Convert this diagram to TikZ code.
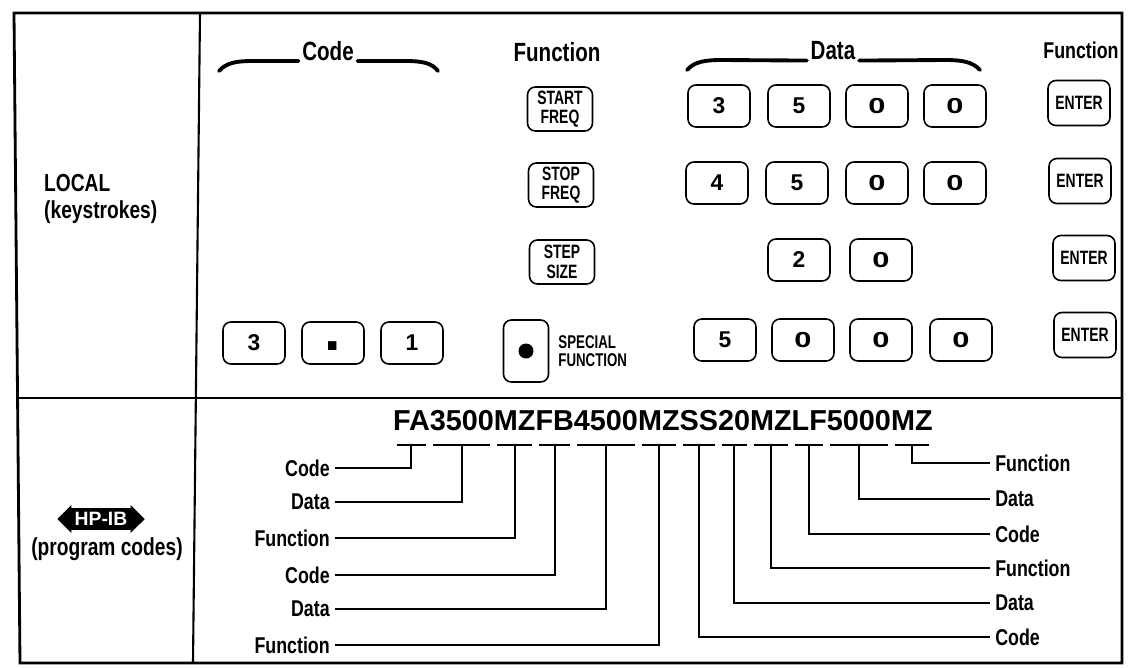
\documentclass[tikz,border=0pt]{standalone}
\usepackage{fontspec}
\setmainfont{Liberation Sans}
\newfontfamily\condfont[FakeStretch=0.78]{Liberation Sans}
\newfontfamily\keyfont[FakeStretch=0.72]{Liberation Sans}
\usepackage{graphicx}
\usetikzlibrary{shapes.arrows,positioning,calc}

\newcommand{\zerokey}{\scalebox{1.35}[0.95]{0}}

\begin{document}
\begin{tikzpicture}[x=0.02cm, y=-0.02cm,
		frame/.style={line width=1.6pt},
		rule/.style={line width=1.2pt},
		brace/.style={line width=2.2pt, line cap=round},
		hdr/.style={font=\condfont\bfseries\fontsize{15}{17}\selectfont, inner sep=0pt},
		side/.style={font=\condfont\bfseries\fontsize{14}{15}\selectfont, align=left},
		key/.style={draw, line width=0.9pt, rounded corners=4.5pt, minimum width=1.24cm, minimum height=0.84cm, inner sep=0pt, font=\bfseries\fontsize{13}{13}\selectfont},
		fkey/.style={key, minimum width=1.3cm, minimum height=0.88cm, align=center, font=\keyfont\bfseries\fontsize{11}{11}\selectfont},
		enter/.style={fkey, minimum width=1.24cm, minimum height=0.9cm},
		prog/.style={font=\bfseries\fontsize{16.4}{18}\selectfont, inner sep=0pt, outer sep=0pt, anchor=base west},
		tag/.style={font=\condfont\bfseries\fontsize{13}{14}\selectfont, inner sep=0pt, outer sep=3pt},
		lead/.style={line width=1.1pt}]
		\useasboundingbox (0,0) rectangle (1134,667);

		\draw[frame] (14,13) -- (1122,13) -- (1122,663) -- (20,663) -- cycle;
		\draw[rule] (200,13) -- (193,663);
		\draw[rule] (16,398) -- (1122,398);

		\node[side, anchor=west] (local) at (38,199) {LOCAL\\(keystrokes)};
		\node[double arrow, fill=black, text=white, inner sep=2.2pt, double arrow head extend=1.8pt, minimum height=1.75cm, font=\bfseries\fontsize{11}{11}\selectfont] (hpib) at (101,519) {HP-IB};
		\node[side] (progcodes) at (107,549) {(program codes)};

		\node[hdr] (codehd) at (328,51) {Code};
		\node[hdr] (fnhd) at (557,52) {Function};
		\node[hdr] (datahd) at (833,51) {Data};
		\node[hdr, font=\condfont\bfseries\fontsize{13}{15}\selectfont] (enterhd) at (1081,50) {Function};

		\draw[brace] (219,71) .. controls (226,63) and (236,61) .. (252,61) -- ([xshift=-2pt]codehd.south west);
		\draw[brace] ([xshift=2pt]codehd.south east) -- (406,61) .. controls (422,61) and (432,63) .. (438,71);
		\draw[brace] (687,70) .. controls (694,62) and (704,60) .. (722,60) -- ([xshift=-2pt]datahd.south west);
		\draw[brace] ([xshift=2pt]datahd.south east) -- (946,60) .. controls (962,60) and (973,62) .. (980,70);

		\node[fkey] (startfreq) at (560,109) {START\\FREQ};
		\node[key] (d11) at (719,106) {3};
		\node[key] (d12) at (799,106) {5};
		\node[key] (d13) at (877,106) {\zerokey};
		\node[key] (d14) at (955,106) {\zerokey};
		\node[enter] (enter1) at (1079,103) {ENTER};

		\node[fkey] (stopfreq) at (561,185) {STOP\\FREQ};
		\node[key] (d21) at (717,183) {4};
		\node[key] (d22) at (797,183) {5};
		\node[key] (d23) at (877,183) {\zerokey};
		\node[key] (d24) at (955,183) {\zerokey};
		\node[enter] (enter2) at (1080,181) {ENTER};

		\node[fkey] (stepsize) at (562,262) {STEP\\SIZE};
		\node[key] (d31) at (799,260) {2};
		\node[key] (d32) at (881,260) {\zerokey};
		\node[enter] (enter3) at (1084,258) {ENTER};

		\node[key] (c1) at (254,343) {3};
		\node[key] (c2) at (333,343) {\vphantom{3}\scalebox{2.6}{.}};
		\node[key] (c3) at (412,343) {1};
		\node[key, minimum width=0.9cm, minimum height=1.24cm] (special) at (526,351) {};
		\fill (special.center) circle (0.15cm);
		\node[right=5pt of special, align=left, inner sep=0pt, font=\keyfont\bfseries\fontsize{10.5}{10.5}\selectfont] (spectxt) {SPECIAL\\FUNCTION};
		\node[key] (d41) at (725,340) {5};
		\node[key] (d42) at (803,340) {\zerokey};
		\node[key] (d43) at (881,340) {\zerokey};
		\node[key] (d44) at (961,340) {\zerokey};
		\node[enter] (enter4) at (1085,335) {ENTER};

		\node[prog] (g1) at (393,430) {FA};
		\node[prog] (g2) at (g1.base east) {3500};
		\node[prog] (g3) at (g2.base east) {MZ};
		\node[prog] (g4) at (g3.base east) {FB};
		\node[prog] (g5) at (g4.base east) {4500};
		\node[prog] (g6) at (g5.base east) {MZ};
		\node[prog] (g7) at (g6.base east) {SS};
		\node[prog] (g8) at (g7.base east) {20};
		\node[prog] (g9) at (g8.base east) {MZ};
		\node[prog] (g10) at (g9.base east) {LF};
		\node[prog] (g11) at (g10.base east) {5000};
		\node[prog] (g12) at (g11.base east) {MZ};

		\node[tag, anchor=east] (lc1) at (335,468) {Code};
		\node[tag, anchor=east] (ld1) at (335,502) {Data};
		\node[tag, anchor=east] (lf1) at (335,538) {Function};
		\node[tag, anchor=east] (lc2) at (335,575) {Code};
		\node[tag, anchor=east] (ld2) at (335,609) {Data};
		\node[tag, anchor=east] (lf2) at (335,645) {Function};

		\node[tag, anchor=west] (rf4) at (990,463) {Function};
		\node[tag, anchor=west] (rd4) at (990,499) {Data};
		\node[tag, anchor=west] (rc4) at (990,534) {Code};
		\node[tag, anchor=west] (rf3) at (990,568) {Function};
		\node[tag, anchor=west] (rd3) at (990,603) {Data};
		\node[tag, anchor=west] (rc3) at (990,637) {Code};

		\draw[lead] ([xshift=2pt,yshift=-8.5pt]g1.base west) -- ([xshift=-2pt,yshift=-8.5pt]g1.base east) ([yshift=-8.5pt]g1.base) |- (lc1.east);
		\draw[lead] ([xshift=2pt,yshift=-8.5pt]g2.base west) -- ([xshift=-2pt,yshift=-8.5pt]g2.base east) ([yshift=-8.5pt]g2.base) |- (ld1.east);
		\draw[lead] ([xshift=2pt,yshift=-8.5pt]g3.base west) -- ([xshift=-2pt,yshift=-8.5pt]g3.base east) ([yshift=-8.5pt]g3.base) |- (lf1.east);
		\draw[lead] ([xshift=2pt,yshift=-8.5pt]g4.base west) -- ([xshift=-2pt,yshift=-8.5pt]g4.base east) ([yshift=-8.5pt]g4.base) |- (lc2.east);
		\draw[lead] ([xshift=2pt,yshift=-8.5pt]g5.base west) -- ([xshift=-2pt,yshift=-8.5pt]g5.base east) ([yshift=-8.5pt]g5.base) |- (ld2.east);
		\draw[lead] ([xshift=2pt,yshift=-8.5pt]g6.base west) -- ([xshift=-2pt,yshift=-8.5pt]g6.base east) ([yshift=-8.5pt]g6.base) |- (lf2.east);
		\draw[lead] ([xshift=2pt,yshift=-8.5pt]g7.base west) -- ([xshift=-2pt,yshift=-8.5pt]g7.base east) ([yshift=-8.5pt]g7.base) |- (rc3.west);
		\draw[lead] ([xshift=2pt,yshift=-8.5pt]g8.base west) -- ([xshift=-2pt,yshift=-8.5pt]g8.base east) ([yshift=-8.5pt]g8.base) |- (rd3.west);
		\draw[lead] ([xshift=2pt,yshift=-8.5pt]g9.base west) -- ([xshift=-2pt,yshift=-8.5pt]g9.base east) ([yshift=-8.5pt]g9.base) |- (rf3.west);
		\draw[lead] ([xshift=2pt,yshift=-8.5pt]g10.base west) -- ([xshift=-2pt,yshift=-8.5pt]g10.base east) ([yshift=-8.5pt]g10.base) |- (rc4.west);
		\draw[lead] ([xshift=2pt,yshift=-8.5pt]g11.base west) -- ([xshift=-2pt,yshift=-8.5pt]g11.base east) ([yshift=-8.5pt]g11.base) |- (rd4.west);
		\draw[lead] ([xshift=2pt,yshift=-8.5pt]g12.base west) -- ([xshift=-2pt,yshift=-8.5pt]g12.base east) ([yshift=-8.5pt]g12.base) |- (rf4.west);
	\end{tikzpicture}
\end{document}
